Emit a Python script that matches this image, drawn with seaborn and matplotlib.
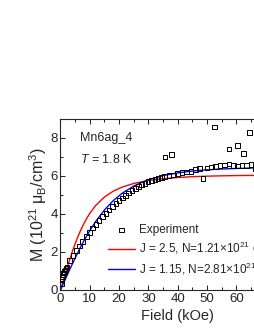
import matplotlib
matplotlib.use("Agg")
import matplotlib.pyplot as plt
import seaborn as sns
import pandas as pd
from matplotlib.ticker import MultipleLocator

# measured magnetization, Mn6ag_4 at 1.8 K
field_exp = [0.3, 0.5, 0.7, 0.9, 1.1, 1.3, 1.6, 1.9, 2.2,
             3.0, 4.2, 5.4, 6.4, 7.6, 8.8, 9.9, 10.9, 12.1, 13.1,
             14.3, 15.5, 16.6, 17.7, 18.9, 19.9, 21.1, 22.2, 23.2, 24.4,
             25.5, 26.6, 27.6, 28.8, 29.9, 31.1, 32.2, 33.3, 34.4, 35.5,
             37.0, 38.5, 40.0, 41.5, 43.0, 44.5, 46.0, 47.5, 50.0, 51.5,
             53.0, 54.5, 56.0, 57.5, 59.0, 60.5, 62.0, 63.5, 65.0, 66.5,
             35.7, 37.8, 48.7, 52.6, 57.5, 60.4, 62.5, 64.5]
m_exp = [0.35, 0.55, 0.70, 0.82, 0.90, 0.98, 1.06, 1.14, 1.22,
         1.55, 1.81, 2.07, 2.32, 2.55, 2.81, 3.04, 3.27, 3.46, 3.66,
         3.87, 4.04, 4.22, 4.39, 4.55, 4.71, 4.85, 4.97, 5.10, 5.24,
         5.34, 5.45, 5.54, 5.62, 5.71, 5.77, 5.82, 5.87, 5.92, 5.97,
         6.02, 6.06, 6.12, 6.17, 6.22, 6.25, 6.33, 6.38, 6.43, 6.47,
         6.50, 6.55, 6.58, 6.63, 6.55, 6.52, 6.55, 6.55, 6.62, 6.40,
         7.00, 7.12, 5.87, 8.58, 7.43, 7.60, 7.20, 8.30]

# fit curves
field_fit = [0, 1, 2, 3, 4, 5, 6, 7, 8, 9, 10, 12, 15, 18, 21, 25,
             30, 35, 40, 45, 50, 55, 60, 65, 70]
m_fit_j25 = [0, 0.525, 1.039, 1.534, 2.00, 2.432, 2.83, 3.184, 3.50, 3.785,
             4.035, 4.447, 4.895, 5.200, 5.413, 5.607,
             5.761, 5.858, 5.921, 5.963, 5.991, 6.009, 6.022, 6.031, 6.037]
m_fit_j115 = [0, 0.346, 0.688, 1.027, 1.359, 1.683, 1.995, 2.298, 2.587, 2.863,
              3.124, 3.603, 4.212, 4.702, 5.087, 5.474,
              5.804, 6.021, 6.165, 6.261, 6.325, 6.369, 6.398, 6.419, 6.433]

label_exp = "Experiment"
label_j25 = r"J = 2.5, N=1.21$\times$10$^{21}$ cm$^{-3}$"
label_j115 = r"J = 1.15, N=2.81$\times$10$^{21}$ cm$^{-3}$"

sns.set_style("ticks")
plt.rcParams["font.family"] = ["Liberation Sans", "DejaVu Sans"]
plt.rcParams["mathtext.fontset"] = "custom"
plt.rcParams["mathtext.rm"] = "Liberation Sans"
plt.rcParams["mathtext.it"] = "Liberation Sans:italic"
plt.rcParams["mathtext.default"] = "regular"

exp_df = pd.DataFrame({"field": field_exp, "m": m_exp})
fit_df = pd.DataFrame({"field": field_fit, "j25": m_fit_j25, "j115": m_fit_j115})

fig = plt.figure(figsize=(2.55, 3.3), dpi=100)
ax = fig.add_axes([60.5 / 255, 40 / 330, 80 * 2.93 / 255, 171 / 330])

sns.scatterplot(data=exp_df, x="field", y="m", ax=ax, marker="s", s=11,
                facecolor="none", edgecolor="black", linewidth=0.7,
                label=label_exp, zorder=3)
sns.lineplot(data=fit_df, x="field", y="j25", ax=ax, color="#ff0000",
             lw=1.0, label=label_j25, zorder=2)
sns.lineplot(data=fit_df, x="field", y="j115", ax=ax, color="#0000ff",
             lw=1.0, label=label_j115, zorder=2)

ax.set_xlim(0, 80)
ax.set_ylim(0, 9)
ax.xaxis.set_major_locator(MultipleLocator(10))
ax.xaxis.set_minor_locator(MultipleLocator(5))
ax.yaxis.set_major_locator(MultipleLocator(2))
ax.yaxis.set_minor_locator(MultipleLocator(1))
ax.tick_params(which="both", direction="in", top=True, right=True,
               labelsize=9.5, width=0.75, pad=2)
ax.tick_params(which="major", length=3.5)
ax.tick_params(which="minor", length=2)
for sp in ax.spines.values():
    sp.set_linewidth(0.8)

ax.set_xlabel("Field (kOe)", fontsize=10.5, labelpad=3)
ax.set_ylabel(r"M (10$^{21}$ $\mu_B$/cm$^3$)", fontsize=11.5, labelpad=1)

ax.text(0.085, 0.925, "Mn6ag_4", transform=ax.transAxes, fontsize=9,
        va="top", ha="left")
ax.text(0.085, 0.80, r"$\mathit{T}$ = 1.8 K", transform=ax.transAxes,
        fontsize=9, va="top", ha="left")

ax.legend(loc="upper left", bbox_to_anchor=(108 / 255, 1 - 224 / 330),
          bbox_transform=fig.transFigure, frameon=False, fontsize=8.5,
          borderaxespad=0, borderpad=0, handlelength=2.3,
          handletextpad=0.3, labelspacing=0.35, markerscale=1.0)

fig.savefig("out.png", dpi=100)
